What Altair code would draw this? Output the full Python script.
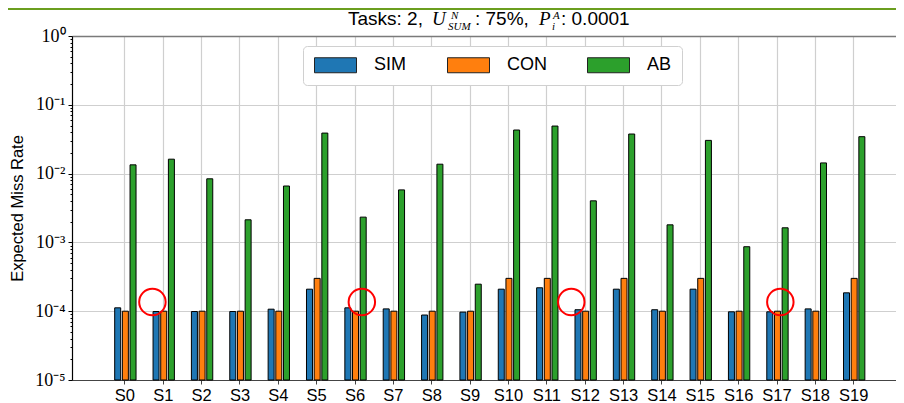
import json
import altair as alt
import pandas as pd

# ---- data ----
categories = ["S0", "S1", "S2", "S3", "S4", "S5", "S6", "S7", "S8", "S9",
              "S10", "S11", "S12", "S13", "S14", "S15", "S16", "S17", "S18", "S19"]
series = ["SIM", "CON", "AB"]
sim = [1.12e-4, 0.99e-4, 0.99e-4, 0.99e-4, 1.07e-4, 2.09e-4, 1.12e-4, 1.08e-4, 0.88e-4, 0.97e-4,
       2.09e-4, 2.19e-4, 1.05e-4, 2.09e-4, 1.05e-4, 2.09e-4, 0.98e-4, 0.98e-4, 1.08e-4, 1.85e-4]
con = [1.0e-4, 1.0e-4, 1.0e-4, 1.0e-4, 1.0e-4, 3.0e-4, 1.0e-4, 1.0e-4, 1.0e-4, 1.0e-4,
       3.0e-4, 3.0e-4, 1.0e-4, 3.0e-4, 1.0e-4, 3.0e-4, 1.0e-4, 1.0e-4, 1.0e-4, 3.0e-4]
ab = [0.0134, 0.0162, 0.0084, 0.00213, 0.0066, 0.0388, 0.00233, 0.0058, 0.0137, 0.000247,
      0.0430, 0.0491, 0.00402, 0.0376, 0.0018, 0.0304, 0.000865, 0.00163, 0.0143, 0.0344]

# red annotation circles: category index, offset within group, value
circle_idx = [1, 6, 12, 17]
circle_dx = [-0.27, 0.19, -0.35, 0.10]
circle_val = [1.36e-4, 1.36e-4, 1.36e-4, 1.36e-4]

y_ticks = [1e-5, 1e-4, 1e-3, 1e-2, 1e-1, 1.0]
y_labels = ["10\u207b\u2075", "10\u207b\u2074", "10\u207b\u00b3", "10\u207b\u00b2", "10\u207b\u00b9", "10\u2070"]

# ---- tables ----
rows = []
for i, c in enumerate(categories):
    for s, vals in zip(series, [sim, con, ab]):
        rows.append({"idx": i, "cat": c, "series": s, "value": vals[i]})
df = pd.DataFrame(rows)
circles = pd.DataFrame({"idx": circle_idx, "dx": circle_dx, "value": circle_val})

minor = []
for e in range(-5, 0):
    for m in range(2, 10):
        minor.append(m * 10.0 ** e)
y_values = y_ticks + minor

PLOT_W, PLOT_H = 824, 344
xscale = alt.Scale(domain=[-1.236, 19.985], nice=False, zero=False)
yscale = alt.Scale(type="log", domain=[1e-5, 1.0], nice=False)

dec_test = "abs(log(datum.value)/LN10 - round(log(datum.value)/LN10)) < 0.001"
ylab_expr = "(" + json.dumps(y_labels) + ")[round(log(datum.value)/LN10)+5]"
xlab_expr = json.dumps(categories) + "[datum.value]"

x_axis = alt.Axis(values=list(range(len(categories))), labelExpr=xlab_expr, title=None,
                  grid=True, gridColor="#cfcfcf", gridWidth=1.2,
                  domainColor="#444444", domainWidth=1.2,
                  tickColor="#444444", tickSize=4, labelPadding=3,
                  labelFont="Liberation Sans", labelFontSize=16.5, labelColor="black",
                  labelAngle=0)
y_axis = alt.Axis(values=y_values, labelExpr="(" + dec_test + ") ? " + ylab_expr + " : ''",
                  title="Expected Miss Rate", titleFont="Liberation Sans", titleFontSize=16.5,
                  titleFontWeight="normal", titleColor="black", titlePadding=9,
                  grid=True,
                  gridColor={"condition": {"test": "datum.value > 0.99", "value": "#7a7a7a"}, "value": "#cfcfcf"},
                  gridWidth={"condition": {"test": "datum.value > 0.99", "value": 1.6}, "value": 1.2},
                  gridOpacity={"condition": {"test": dec_test, "value": 1}, "value": 0},
                  domainColor="black", domainWidth=1.2,
                  tickColor="black",
                  tickSize={"condition": {"test": dec_test, "value": 4}, "value": 2},
                  labelFont="Liberation Serif", labelFontSize=18, labelColor="black",
                  labelPadding=3, labelFlush=False, labelOverlap=False)

base = alt.Chart(df).transform_calculate(
    xpos="datum.idx + (datum.series == 'SIM' ? -0.175 : (datum.series == 'CON' ? 0.025 : 0.225))"
)

bars = base.mark_bar(size=6, stroke="black", strokeWidth=1, opacity=1).encode(
    x=alt.X("xpos:Q", scale=xscale, axis=x_axis),
    y=alt.Y("value:Q", scale=yscale, axis=y_axis),
    y2=alt.datum(1e-5),
    color=alt.Color("series:N",
                    scale=alt.Scale(domain=series, range=["#1f77b4", "#ff7f0e", "#2ca02c"]),
                    sort=series,
                    legend=alt.Legend(title=None, orient="none", legendX=231, legendY=10,
                                      direction="horizontal", columns=3,
                                      symbolType="M-1,-1L4.6,-1L4.6,1L-1,1Z",
                                      symbolSize=225, symbolStrokeColor="#222222",
                                      symbolStrokeWidth=1, symbolOpacity=1,
                                      labelFont="Liberation Sans", labelFontSize=18,
                                      labelColor="black", labelOffset=43,
                                      columnPadding=38, padding=10,
                                      fillColor="white", strokeColor="#d0d0d0",
                                      cornerRadius=4)),
)

circ = alt.Chart(circles).transform_calculate(
    xpos="datum.idx + datum.dx"
).mark_point(shape="circle", filled=False, color="red", strokeWidth=2, size=700, opacity=1).encode(
    x=alt.X("xpos:Q", scale=xscale),
    y=alt.Y("value:Q", scale=yscale),
)

# title made of pieces (math-like sub/superscripts)
def piece(txt, x, y, size=19, font="Liberation Sans", style="normal"):
    return alt.Chart(pd.DataFrame({"t": [txt]})).mark_text(
        align="left", baseline="alphabetic", font=font, fontSize=size,
        fontStyle=style, color="black"
    ).encode(text="t:N", x=alt.value(x), y=alt.value(y))

title_layers = [
    piece("Tasks: 2,", 276, -11),
    piece("U", 360, -11, 19, "Liberation Serif", "italic"),
    piece("N", 379, -17, 11, "Liberation Serif", "italic"),
    piece("SUM", 376, -6, 11, "Liberation Serif", "italic"),
    piece(": 75%,", 403, -11),
    piece("P", 467, -11, 19, "Liberation Serif", "italic"),
    piece("A", 481, -17, 11, "Liberation Serif", "italic"),
    piece("i", 480, -6, 11, "Liberation Serif", "italic"),
    piece(": 0.0001", 489, -11),
]

deco = alt.Chart(pd.DataFrame({"a": [0]})).mark_rule(color="#6b9e1f", strokeWidth=2).encode(
    x=alt.value(-64), x2=alt.value(PLOT_W + 8), y=alt.value(-27)
)

chart = alt.layer(bars, circ, deco, *title_layers).properties(
    width=PLOT_W, height=PLOT_H,
    autosize=alt.AutoSizeParams(type="none"),
    padding={"left": 64, "top": 28, "right": 0, "bottom": 23},
).configure_view(stroke=None).configure(background="white")

chart.save("out.html", embed_options={"renderer": "svg", "actions": False})
